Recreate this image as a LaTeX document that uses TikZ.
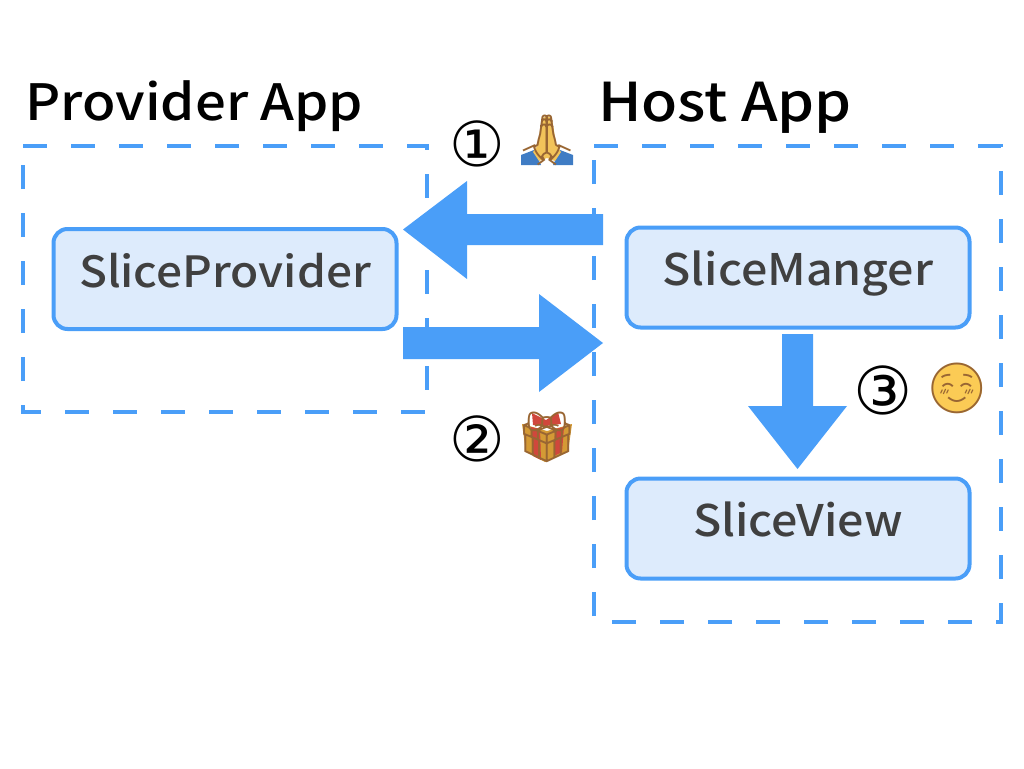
\documentclass[tikz,border=0pt]{standalone}
\usepackage{fontspec}
\setmainfont{Noto Sans CJK JP Medium}[FakeStretch=1.07]
\newfontfamily\headfont{Noto Sans CJK JP Medium}[FakeStretch=1.09]
\newfontfamily\hostfont{Noto Sans CJK JP Medium}[FakeStretch=1.10]
\newfontfamily\emojifont{Noto Emoji}
\newfontfamily\circfont{DejaVu Sans}
\definecolor{flow}{HTML}{4A9EF8}
\definecolor{boxfill}{HTML}{DDEBFC}
\definecolor{boxtext}{HTML}{404040}
\definecolor{skin}{HTML}{F2C35A}
\definecolor{sleeve}{HTML}{3F7CC4}
\definecolor{giftgold}{HTML}{D49A35}
\definecolor{giftred}{HTML}{D0473C}
\definecolor{face}{HTML}{FBCB55}
\tikzset{
  x=1pt,y=-1pt,
  pane/.style={draw=flow,line width=4pt,dash pattern=on 24pt off 24pt},
  card/.style={draw=flow,line width=4pt,fill=boxfill,rounded corners=14pt,minimum width=343pt,minimum height=100pt,inner sep=0pt,text=boxtext,font=\fontsize{43.5}{48}\selectfont},
  heading/.style={anchor=base west,inner sep=0pt,font=\headfont\fontsize{50}{56}\selectfont},
  stepnum/.style={inner sep=0pt,font=\circfont\fontsize{62}{64}\selectfont},
  emoji/.style={inner sep=0pt,font=\emojifont\fontsize{50}{52}\selectfont},
  blockarrow/.style={fill=flow,draw=none}
}
\begin{document}
\begin{tikzpicture}
\useasboundingbox (0,0) rectangle (1024,768);
% dashed panes
\draw[pane] (23,146) -- (427,146) -- (427,411.5) -- (23,411.5) -- cycle;
\draw[pane] (594,146) -- (1001,146) -- (1001,622) -- (594,622) -- cycle;
% headings
\node[heading] (hprov) at (25,120.5) {Provider App};
\node[heading,font=\hostfont\fontsize{53.5}{58}\selectfont] (hhost) at (598,121.5) {Host App};
% cards
\node[card,font=\fontsize{43}{48}\selectfont] (prov) at (225,279) {\raisebox{18pt}{SliceProvider}};
\node[card] (mgr) at (798,277.5) {\raisebox{18pt}{SliceManger}};
\node[card] (view) at (798,528.5) {\raisebox{18pt}{SliceView}};
% block arrows
\coordinate (a1s) at (603,229.5);
\coordinate (a1t) at (403,229.5);
\fill[blockarrow] (a1s) ++(0,-15.5) -- ++(-136,0) -- ++(0,-33) -- (a1t) -- (467,279) -- (467,245) -- (603,245) -- cycle;
\coordinate (a2s) at (403,343);
\coordinate (a2t) at (603,343);
\fill[blockarrow] (a2s) ++(0,-16) -- ++(136,0) -- ++(0,-33) -- (a2t) -- (539,392) -- (539,359) -- (403,359) -- cycle;
\coordinate (a3s) at (797.5,334);
\coordinate (a3t) at (797.5,469);
\fill[blockarrow] (a3s) ++(-15.5,0) -- ++(0,72) -- ++(-34,0) -- (a3t) -- (847,406) -- (813,406) -- (813,334) -- cycle;
% numbers
\node[stepnum] (n1) at (477,143.5) {①};
\node[stepnum] (n2) at (477,439) {②};
\node[stepnum,font=\circfont\fontsize{66}{68}\selectfont] (n3) at (883,390) {③};
% hands
\fill[sleeve] (521,165) -- (521,155) -- (534,150) -- (541,165) -- cycle;
\fill[sleeve] (573,165) -- (573,155) -- (560,150) -- (553,165) -- cycle;
\fill[skin] (547,116) .. controls (541,116) and (541,125) .. (538,145) -- (533,152) -- (539,161) -- (547,158) -- (555,161) -- (561,152) -- (556,145) .. controls (553,125) and (553,116) .. (547,116) -- cycle;
\node[emoji,text=brown!80!black] (e1) at (547,140) {🙏};
% gift
\fill[giftgold] (522,424) -- (547,431) -- (572,424) -- (568,452) -- (545,462) -- (526,452) -- cycle;
\fill[giftred] (531,427) -- (540,429) -- (541,460) -- (533,456) -- cycle;
\fill[giftred] (555,429) -- (564,427) -- (562,452) -- (554,456) -- cycle;
\fill[giftred] (532,413) -- (546,420) -- (558,412) -- (561,424) -- (546,426) -- (533,425) -- cycle;
\node[emoji,text=brown!80!black] (e2) at (547,437) {🎁};
% face
\fill[face] (957,388) circle (25);
\node[emoji,text=brown!80!black] (e3) at (957,388) {☺};
\end{tikzpicture}
\end{document}
